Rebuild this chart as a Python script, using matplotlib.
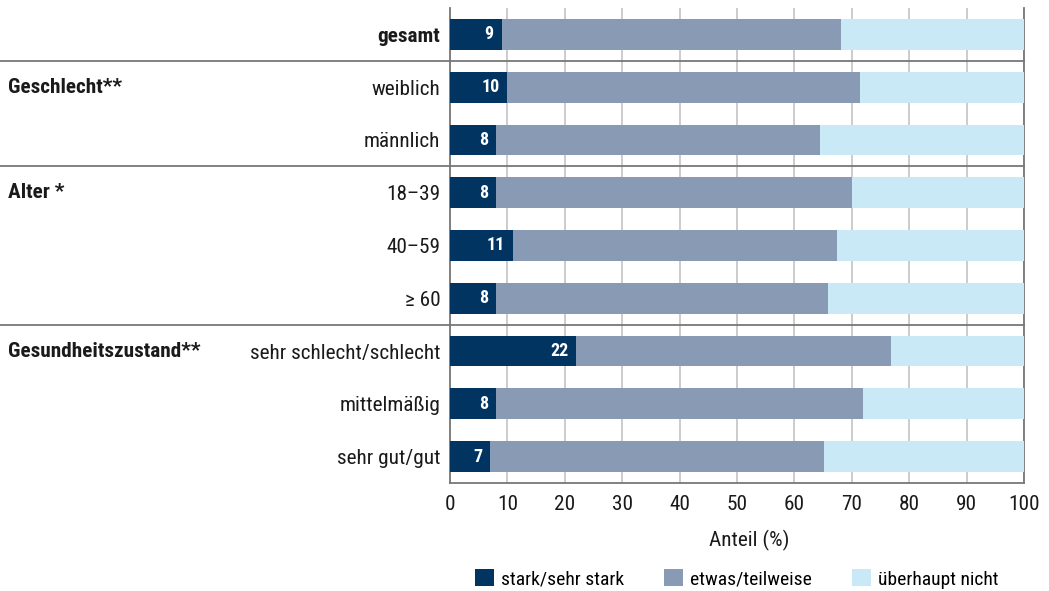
import matplotlib
matplotlib.use("Agg")
import matplotlib.pyplot as plt
from matplotlib import font_manager
from matplotlib.transforms import blended_transform_factory
from matplotlib.patches import Patch

# data
categories = ["gesamt", "weiblich", "männlich", "18–39", "40–59", "≥ 60",
              "sehr schlecht/schlecht", "mittelmäßig", "sehr gut/gut"]
stark = [9, 10, 8, 8, 11, 8, 22, 8, 7]
etwas = [59.2, 61.5, 56.4, 62.1, 56.5, 57.8, 54.9, 63.9, 58.2]
nicht = [100 - s - e for s, e in zip(stark, etwas)]
groups = {"Geschlecht**": 1, "Alter *": 3, "Gesundheitszustand**": 6}
separators = [0.5, 2.5, 5.5]
series_names = ["stark/sehr stark", "etwas/teilweise", "überhaupt nicht"]
colors = ["#013461", "#899ab5", "#c9e9f6"]

available = {f.name for f in font_manager.fontManager.ttflist}
family = "DejaVu Sans"
for cand in ["Liberation Sans Narrow", "Roboto Condensed", "Open Sans Condensed", "Liberation Sans"]:
    if cand in available:
        family = cand
        break
plt.rcParams["font.family"] = [family, "DejaVu Sans"]
fs = 15.3

fig = plt.figure(figsize=(10.49, 5.91), dpi=100)
ax = fig.add_axes([450 / 1049, 1 - 483 / 591, 574 / 1049, 475 / 591])

y = list(range(len(categories)))
h = 0.585
ax.barh(y, stark, height=h, color=colors[0], zorder=3)
ax.barh(y, etwas, left=stark, height=h, color=colors[1], zorder=3)
ax.barh(y, nicht, left=[s + e for s, e in zip(stark, etwas)], height=h, color=colors[2], zorder=3)

for yi, s in zip(y, stark):
    ax.text(s - 1.4, yi, str(s), ha="right", va="center", color="white",
            fontsize=13, fontweight="bold", zorder=4)

ax.set_xlim(0, 100)
ax.set_ylim(8.5, -0.5)
ax.set_xticks(range(0, 101, 10))
ax.set_yticks(y)
ax.set_yticklabels(categories, fontsize=fs, color="#1a1a1a")
ax.get_yticklabels()[0].set_fontweight("bold")
ax.tick_params(axis="y", length=0, pad=7)
ax.tick_params(axis="x", length=0, pad=9, labelsize=fs, labelcolor="#1a1a1a")
ax.grid(axis="x", color="#c8c8c8", linewidth=1.3, zorder=0)
ax.set_axisbelow(True)
ax.spines["top"].set_visible(False)
for side in ["left", "right", "bottom"]:
    ax.spines[side].set_color("#777777")
    ax.spines[side].set_linewidth(1.3)

ax.set_xlabel("Anteil (%)", fontsize=fs, color="#1a1a1a")
ax.xaxis.set_label_coords((749.5 - 450) / 574, -0.099)

trans = blended_transform_factory(fig.transFigure, ax.transData)
for sep in separators:
    ax.plot([0, 1024 / 1049], [sep, sep], transform=trans, color="#777777",
            linewidth=1.3, clip_on=False, zorder=5)
for name, row in groups.items():
    ax.text(8 / 1049, row, name, transform=trans, ha="left", va="center",
            fontsize=fs, fontweight="bold", color="#1a1a1a")

handles = [Patch(facecolor=c, edgecolor="none") for c in colors]
fig.legend(handles, series_names, loc="center", bbox_to_anchor=(737 / 1049, 1 - 579 / 591),
           ncol=3, frameon=False, fontsize=14, handlelength=0.98, handleheight=0.95,
           handletextpad=0.36, columnspacing=2.05, borderpad=0)

fig.savefig("out.png", dpi=100)
